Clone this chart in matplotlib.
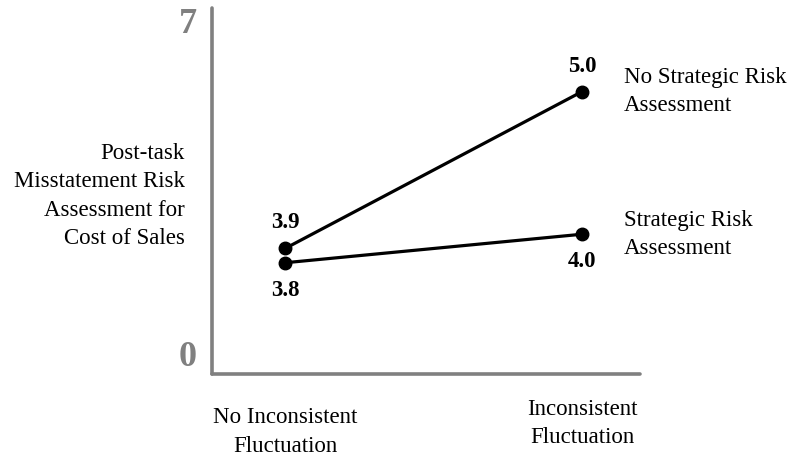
import matplotlib
matplotlib.use("Agg")
import matplotlib.pyplot as plt

conditions = ["No Inconsistent\nFluctuation", "Inconsistent\nFluctuation"]
no_strategic = [3.9, 5.0]
strategic = [3.8, 4.0]
series_names = ["No Strategic Risk\nAssessment", "Strategic Risk\nAssessment"]
ytick_labels = ["0", "7"]
ylabel = "Post-task\nMisstatement Risk\nAssessment for\nCost of Sales"

plt.rcParams['font.family'] = ['Liberation Serif', 'DejaVu Serif']

fig = plt.figure(figsize=(7.95, 4.58), dpi=100)
ax = fig.add_axes([212/795, 1-374/458, (640-212)/795, (374-8)/458])

xs = list(range(len(conditions)))
ax.plot(xs, no_strategic, color='black', lw=2.3, marker='o', ms=9, zorder=3)
ax.plot(xs, strategic, color='black', lw=2.3, marker='o', ms=9, zorder=3)

ax.set_xlim(-0.246, 1.195)
ax.set_ylim(3.02, 5.586)

fs = 16.5
fs_val = 16.5
# value labels
ax.annotate(f"{no_strategic[0]:.1f}", (xs[0], no_strategic[0]), xytext=(0, 19), textcoords='offset points',
            ha='center', va='center', fontsize=fs_val, fontweight='bold')
ax.annotate(f"{strategic[0]:.1f}", (xs[0], strategic[0]), xytext=(0, -20), textcoords='offset points',
            ha='center', va='center', fontsize=fs_val, fontweight='bold')
ax.annotate(f"{no_strategic[1]:.1f}", (xs[1], no_strategic[1]), xytext=(0, 18), textcoords='offset points',
            ha='center', va='center', fontsize=fs_val, fontweight='bold')
ax.annotate(f"{strategic[1]:.1f}", (xs[1], strategic[1]), xytext=(0, -20), textcoords='offset points',
            ha='center', va='center', fontsize=fs_val, fontweight='bold')

# series labels
ax.annotate(series_names[0], (xs[1], no_strategic[1]), xytext=(30, 0), textcoords='offset points',
            ha='left', va='center', fontsize=fs, linespacing=1.45, annotation_clip=False)
ax.annotate(series_names[1], (xs[1], strategic[1]), xytext=(30, 0), textcoords='offset points',
            ha='left', va='center', fontsize=fs, linespacing=1.45, annotation_clip=False)

for s in ['top', 'right']:
    ax.spines[s].set_visible(False)
for s in ['left', 'bottom']:
    ax.spines[s].set_color('#808080')
    ax.spines[s].set_linewidth(2.6)
    ax.spines[s].set_capstyle('round')

ax.set_xticks(xs)
ax.set_xticklabels(conditions, fontsize=fs, linespacing=1.45)
ax.tick_params(axis='x', length=0, pad=24)
ax.xaxis.get_major_ticks()[1].set_pad(18)

ax.set_yticks(list(ax.get_ylim()))
ax.set_yticklabels(ytick_labels, fontsize=26, fontweight='bold', color='#808080')
ax.tick_params(axis='y', length=0, pad=11)
yl = ax.get_yticklabels()
yl[0].set_va('bottom')
yl[1].set_va('top')

fig.text(185/795, 1-196/458, ylabel, ha='right', va='center', fontsize=fs, linespacing=1.45)

fig.savefig("out.png", dpi=100)
